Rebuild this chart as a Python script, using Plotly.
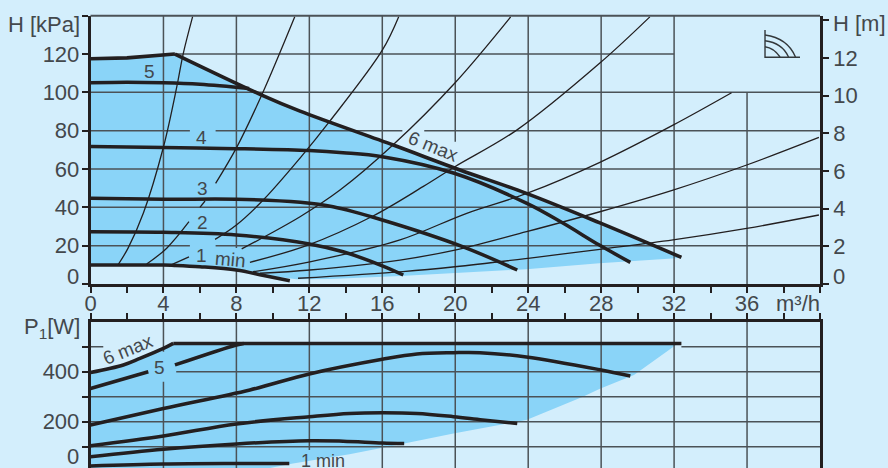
import plotly.graph_objects as go

BG = "#D3EEFC"
FILL = "#8AD4F8"
INK = "#231F20"
GRID = "#4B5257"
TXT = "#43484C"

# ---------- upper chart: head ----------
h_env_x = [0, 2, 4.63, 9.39, 11.49, 16.6, 20.26, 23.9, 27.9, 32.4]
h_env_y = [117.5, 118, 120, 98.6, 90.2, 72.5, 59.5, 47.3, 32, 13.9]
h5_x = [0, 2, 4, 6, 8.7]
h5_y = [105, 105.3, 105, 104.2, 102]
h4_x = [0, 4, 8, 12, 13.85, 16, 19.9, 23.9, 25.9, 27.9, 29.6]
h4_y = [71.7, 71.2, 70.6, 69.6, 68.5, 66.4, 57.9, 42.2, 31.8, 20.3, 11.3]
h3_x = [0, 4, 8, 11.5, 13.3, 16, 20.4, 23.4]
h3_y = [44.7, 44.2, 44.2, 42.6, 40.3, 33.4, 19.5, 7.3]
h2_x = [0, 4, 8, 12, 13.85, 16, 17.15]
h2_y = [27.3, 27, 25.6, 20.9, 16.8, 9.5, 4.7]
h1_x = [0, 4, 4.6, 6, 8, 9.5, 10.93]
h1_y = [9.9, 9.9, 9.7, 9, 7.3, 4.4, 1.7]
h_low_x = [9.46, 11.3, 13.1, 17, 19.9, 23.9, 27.9, 32.1]
h_low_y = [4.7, 2.5, 2.6, 4.2, 5.6, 7.7, 10.8, 13.5]

sys_a_x = [1.5, 2.06, 2.9, 4, 4.73, 5.08, 5.6]
sys_a_y = [9.9, 18.7, 37, 71.5, 102.8, 120, 139.5]
sys_b_x = [3.08, 4.18, 5.4, None, 6, 6.28, None, 6.86, 8, 9.39, 11.2]
sys_b_y = [10.4, 18.7, 32.5, None, 40, 43.3, None, 52.5, 71, 98.6, 139.4]
sys_c_x = [4.3, 5.4, None, 6.83, 8, 9.47, 11.49, 13.1, 16, 16.9]
sys_c_y = [9.5, 14.2, None, 23.3, 30.8, 43.8, 65.7, 84.7, 122, 139.5]
sys_d_x = [8.29, 11.49, 13.68, 16.58, 19.98, 23.04]
sys_d_y = [18.3, 35.1, 49, 72.5, 104.9, 139.4]
sys_e_x = [8.74, 11.92, 15.49, 18.23, 19.98, 23.37, 27.93, 30.67]
sys_e_y = [11.3, 20.3, 35.5, 50.8, 61.2, 80.3, 115.3, 139.4]
sys_f_x = [8.91, 12.03, 16.97, 20.63, 23.99, 27.93, 31.94, 35.15]
sys_f_y = [6.4, 11.6, 23, 36.9, 47.5, 63.5, 82.9, 99.8]
sys_g_x = [9.29, 12.03, 16.97, 19.98, 23.91, 27.93, 31.94, 35.98, 39.94]
sys_g_y = [5.6, 7.3, 12.5, 17.7, 27.3, 37.7, 49, 62.1, 76.5]
sys_h_x = [11.38, 17.13, 19.98, 23.99, 27.93, 31.94, 35.98, 39.94]
sys_h_y = [3, 6.5, 9, 13.4, 18.1, 23, 29, 36]

# ---------- lower chart: power ----------
p6_x = [0, 1.8, 2.71, 4, 4.54, 32.4]
p6_y = [397, 427, 453, 493, 513, 513]
p5_x = [0, 3.17, None, 4.63, 8, 8.4]
p5_y = [333, 400, None, 427, 507, 513]
p4_x = [0, 4, 8.74, 12, 16, 17.9, 19.9, 21.35, 23.9, 28, 29.6]
p4_y = [187, 253, 327, 391, 449.5, 471, 476, 476, 459, 407, 383]
p3_x = [0, 4, 8, 12, 14.2, 16, 17.9, 19.9, 21.5, 23.4]
p3_y = [104, 143, 191, 220, 233, 236, 233, 220, 207, 193]
p2_x = [0, 4, 8, 12, 13.85, 16, 17.2]
p2_y = [60, 90, 111, 124, 122, 115, 113]
p1_x = [0, 4, 8, 10.9]
p1_y = [23, 31, 33, 33]
p_low_x = [32.1, 29.8, 27.9, 27, 23.9, 19.9, 17.2, 14.2, 11.1, 9.5, 0]
p_low_y = [507, 387, 331, 300, 207, 153, 113, 70, 33, 10, 10]

# ---------- grid segments ----------
h_grid_y = [120, 100, 80, 80, 80, 60, 40, 20, 20]
h_grid_from = [4.63, 0, 0, 6.86, 18.3, 0, 0, 0, 6.86]
h_grid_to = [32, 40, 5.45, 17.1, 40, 40, 40, 5.45, 40]
v_grid_x = [4, 8, 8, 12, 16, 20, 20, 24, 28, 32, 36]
v_grid_from = [0, 0, 18.8, 0, 0, 0, 74.2, 0, 0, 0, 0]
v_grid_to = [140, 7, 140, 140, 140, 60, 140, 140, 140, 140, 100]

p_h_grid_y = [500, 500, 400, 300, 200, 100]
p_h_grid_from = [0, 32.4, 4.7, 0, 0, 0]
p_h_grid_to = [0.7, 40, 40, 40, 40, 40]
p_v_grid_x = [4, 4, 8, 12, 16, 20, 24, 28, 32, 36]
p_v_grid_from = [0, 480, 0, 87, 0, 0, 0, 0, 0, 0]
p_v_grid_to = [360, 600, 600, 600, 600, 600, 600, 600, 600, 600]

x_ticks = list(range(0, 41, 2))
x_labels = [str(v) if v % 4 == 0 and v < 40 else " " for v in x_ticks]
kpa_ticks = [0, 20, 40, 60, 80, 100, 120, 140]
kpa_labels = [" ", "20", "40", "60", "80", "100", "120", " "]
m_ticks = [0, 2, 4, 6, 8, 10, 12, 14]
m_labels = [" ", "2", "4", "6", "8", "10", "12", " "]
w_ticks = [100, 200, 300, 400, 500]
w_labels = [" ", "200", " ", "400", " "]

fig = go.Figure()


def seg_lines(xs0, xs1, ys0, ys1):
    X, Y = [], []
    for a, b, c, d in zip(xs0, xs1, ys0, ys1):
        X += [a, b, None]
        Y += [c, d, None]
    return X, Y


def add(x, y, xa, ya, width=3.5, color=INK, shape="spline", fill=None):
    fig.add_trace(go.Scatter(
        x=x, y=y, xaxis=xa, yaxis=ya, mode="lines", hoverinfo="skip",
        showlegend=False, fill=fill, fillcolor=FILL if fill else None,
        line=dict(width=0 if fill else width, color=color, shape=shape,
                  **({"smoothing": 1} if shape == "spline" else {})),
        connectgaps=False,
    ))


# fills
add(h_env_x + h_low_x[::-1] + h1_x[:-2][::-1], h_env_y + h_low_y[::-1] + h1_y[:-2][::-1],
    "x", "y", shape="linear", fill="toself")
add(p6_x[:-1] + p_low_x, p6_y[:-1] + p_low_y, "x2", "y2", shape="linear", fill="toself")

# grids
gx, gy = seg_lines(h_grid_from, h_grid_to, h_grid_y, h_grid_y)
add(gx, gy, "x", "y", 1.5, GRID, "linear")
gx, gy = seg_lines(v_grid_x, v_grid_x, v_grid_from, v_grid_to)
add(gx, gy, "x", "y", 1.5, GRID, "linear")
gx, gy = seg_lines(p_h_grid_from, p_h_grid_to, p_h_grid_y, p_h_grid_y)
add(gx, gy, "x2", "y2", 1.5, GRID, "linear")
gx, gy = seg_lines(p_v_grid_x, p_v_grid_x, p_v_grid_from, p_v_grid_to)
add(gx, gy, "x2", "y2", 1.5, GRID, "linear")

# system curves
for sx, sy in [(sys_a_x, sys_a_y), (sys_b_x, sys_b_y), (sys_c_x, sys_c_y), (sys_d_x, sys_d_y),
               (sys_e_x, sys_e_y), (sys_f_x, sys_f_y), (sys_g_x, sys_g_y), (sys_h_x, sys_h_y)]:
    add(sx, sy, "x", "y", 1.3, INK)

# pump curves (the maximum curve has a corner, so it is drawn in two parts)
add(h_env_x[:3], h_env_y[:3], "x", "y", 3.6, INK, "linear")
add(h_env_x[2:], h_env_y[2:], "x", "y", 3.6)
for cx, cy in [(h5_x, h5_y), (h4_x, h4_y), (h3_x, h3_y), (h2_x, h2_y), (h1_x, h1_y)]:
    add(cx, cy, "x", "y")
add(p6_x[:5], p6_y[:5], "x2", "y2", 3.6)
add(p6_x[4:], p6_y[4:], "x2", "y2", 3.6, INK, "linear")
for cx, cy in [(p5_x, p5_y), (p4_x, p4_y), (p3_x, p3_y), (p2_x, p2_y), (p1_x, p1_y)]:
    add(cx, cy, "x2", "y2")

# invisible trace to bring in the right metre axis
fig.add_trace(go.Scatter(x=[0], y=[0], xaxis="x", yaxis="y3", mode="lines",
                         hoverinfo="skip", showlegend=False, line=dict(width=0)))

W, H = 888, 468
font = dict(family="Liberation Sans, Arial, sans-serif", size=22, color=TXT)
axis_common = dict(showgrid=False, zeroline=False, automargin=False, tickmode="array", ticks="outside",
                   ticklen=6, tickwidth=2, tickcolor=INK, showline=True, linecolor=INK, linewidth=2.5,
                   tickfont=font)
fig.update_layout(
    width=W, height=H, autosize=False, margin=dict(l=0, r=0, t=0, b=0),
    paper_bgcolor=BG, plot_bgcolor=BG, font=font, showlegend=False,
    xaxis=dict(domain=[90.5 / W, 820 / W], range=[0, 40], anchor="y", tickvals=x_ticks, ticktext=x_labels,
               ticklabelstandoff=-8, **axis_common),
    yaxis=dict(domain=[1 - 284 / H, 1 - 15.7 / H], range=[0, 140], anchor="x", tickvals=kpa_ticks,
               ticktext=kpa_labels, ticklabelstandoff=-2, **axis_common),
    yaxis3=dict(overlaying="y", side="right", anchor="x", range=[0, 14.25], tickvals=m_ticks,
                ticktext=m_labels, **axis_common),
    xaxis2=dict(domain=[90.5 / W, 820 / W], range=[0, 40], anchor="y2", side="top", tickvals=x_ticks,
                ticktext=[" "] * len(x_ticks), **axis_common),
    yaxis2=dict(domain=[0, 1 - 321.7 / H], range=[14.8, 600], anchor="x2", tickvals=w_ticks,
                ticktext=w_labels, mirror=True, ticklabelstandoff=-2, **axis_common),
)

# top border of the head chart
fig.add_shape(type="line", xref="x domain", yref="y domain", x0=0, x1=1, y0=1, y1=1,
              line=dict(color=GRID, width=2))


# curve labels
def note(text, x, y, xa="x", ya="y", size=19, angle=0, anchor="center"):
    fig.add_annotation(text=text, x=x, y=y, xref=xa, yref=ya, showarrow=False, textangle=angle,
                       xanchor=anchor, yanchor="middle", borderpad=0,
                       font=dict(family=font["family"], size=size, color=TXT))


def fx(v):
    return v / W


def fy(v):
    return 1 - v / H


note("5", 3.26, 111)
note("4", 6.06, 76.7)
note("3", 6.14, 50)
note("2", 6.14, 32.3)
note("1", 6.06, 15.1)
note("min", 7.65, 12.8, angle=5)
note("6 max", 18.8, 71.5, angle=22)
note("6 max", 2.06, 487, "x2", "y2", angle=-22)
note("5", 3.8, 416, "x2", "y2")
note("1 min", 12.75, 43, "x2", "y2", size=18)
# axis captions sit outside the plot areas, so they are placed on the figure
note("H [kPa]", fx(81), fy(24), "paper", "paper", 22, anchor="right")
note("0", fx(80), fy(276.7), "paper", "paper", 22, anchor="right")
note("0", fx(80), fy(456), "paper", "paper", 22, anchor="right")
note("P<sub>1</sub>[W]", fx(81), fy(328), "paper", "paper", 22, anchor="right")
note("m³/h", fx(821), fy(303), "paper", "paper", 22, anchor="right")
note("0", fx(832), fy(276.7), "paper", "paper", 22, anchor="left")
note("H [m]", fx(832), fy(23), "paper", "paper", 22, anchor="left")


# small pump-curve icon, placed as figure fractions
def icon_path(points):
    (a, b), (c, d), (e, f), (g, h) = points
    return (f"M {fx(a):.4f} {fy(b):.4f} C {fx(c):.4f} {fy(d):.4f} "
            f"{fx(e):.4f} {fy(f):.4f} {fx(g):.4f} {fy(h):.4f}")


icon_frame = f"M {fx(765):.4f} {fy(30):.4f} L {fx(765):.4f} {fy(57.3):.4f} L {fx(800):.4f} {fy(57.3):.4f}"
icon_arcs = [
    [(765, 35), (780, 37), (790, 44), (795.5, 57)],
    [(765, 40.7), (776, 42), (784, 47), (788.5, 57)],
    [(765, 46.7), (771, 47.5), (776, 51), (780, 57)],
]
for d in [icon_frame] + [icon_path(a) for a in icon_arcs]:
    fig.add_shape(type="path", path=d, xref="paper", yref="paper",
                  line=dict(color="#33383B", width=1.4))

fig.write_html("out.html", config=dict(displayModeBar=False),
               post_script="document.body.style.margin='0';document.body.style.background='" + BG + "';")
